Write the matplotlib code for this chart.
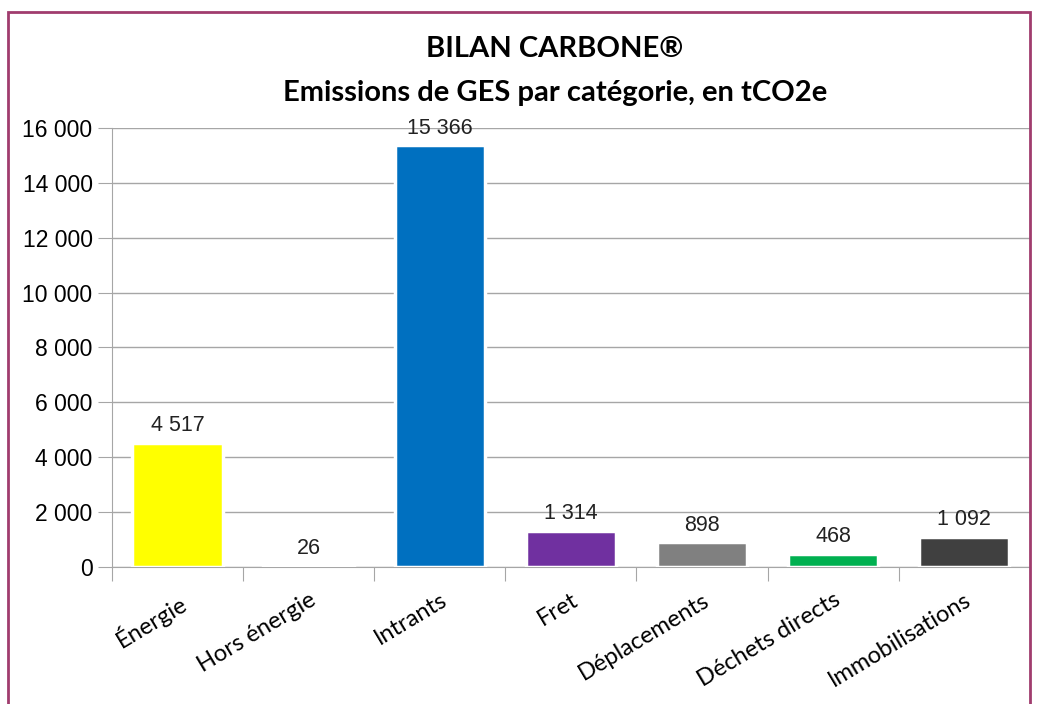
import numpy as np
import matplotlib.pyplot as plt
from matplotlib.patches import Rectangle

categories = ['Énergie', 'Hors énergie', 'Intrants', 'Fret', 'Déplacements',
              'Déchets directs', 'Immobilisations']
values = [4517, 26, 15366, 1314, 898, 468, 1092]
colors = ['#FFFF00', '#FF9900', '#0070C0', '#7030A0', '#808080', '#00B050', '#404040']
yticks = [0, 2000, 4000, 6000, 8000, 10000, 12000, 14000, 16000]


def fmt(v):
    return '{:,}'.format(v).replace(',', ' ')


fig = plt.figure(figsize=(10.37, 7.04), dpi=100)
ax = fig.add_axes([0.108, 0.1946, 0.885, 0.6236])

x = np.arange(len(categories))
ax.bar(x, values, width=0.69, color=colors, edgecolor='white', linewidth=2.5, zorder=3)

for xi, v in zip(x, values):
    ax.text(xi, v + 250, fmt(v), ha='center', va='bottom', fontsize=15.5,
            family='Liberation Sans', color='#222222', zorder=4)

ax.set_xlim(-0.5, len(categories) - 0.5)
ax.set_ylim(0, 16000)
ax.set_yticks(yticks)
ax.set_yticklabels([fmt(t) for t in yticks], family='Liberation Sans', fontsize=16.5)
ax.yaxis.grid(True, color='#A6A6A6', linewidth=1, zorder=0)
ax.tick_params(axis='y', length=10, color='#A6A6A6', pad=4)

ax.set_xticks(np.arange(len(categories) + 1) - 0.5)
ax.set_xticklabels([])
ax.set_xticks(x, minor=True)
ax.set_xticklabels(categories, minor=True, rotation=31, ha='right',
                   rotation_mode='anchor', family='Lato', fontsize=17)
ax.tick_params(axis='x', which='major', length=10, color='#A6A6A6')
ax.tick_params(axis='x', which='minor', length=0, pad=16)

for s in ['top', 'right']:
    ax.spines[s].set_visible(False)
ax.spines['left'].set_color('#A6A6A6')
ax.spines['bottom'].set_color('#A6A6A6')

fig.text(0.535, 0.93, 'BILAN CARBONE®', ha='center', va='center',
         fontsize=21, fontweight='bold', family='Lato')
fig.text(0.535, 0.868, 'Emissions de GES par catégorie, en tCO2e', ha='center',
         va='center', fontsize=21, fontweight='bold', family='Lato')

fig.patches.append(Rectangle((8 / 1037, -0.05), 1022 / 1037, 1.05 - 12 / 704,
                             transform=fig.transFigure, fill=False,
                             edgecolor='#A03C6E', linewidth=2))

fig.savefig('out.png', dpi=100)
